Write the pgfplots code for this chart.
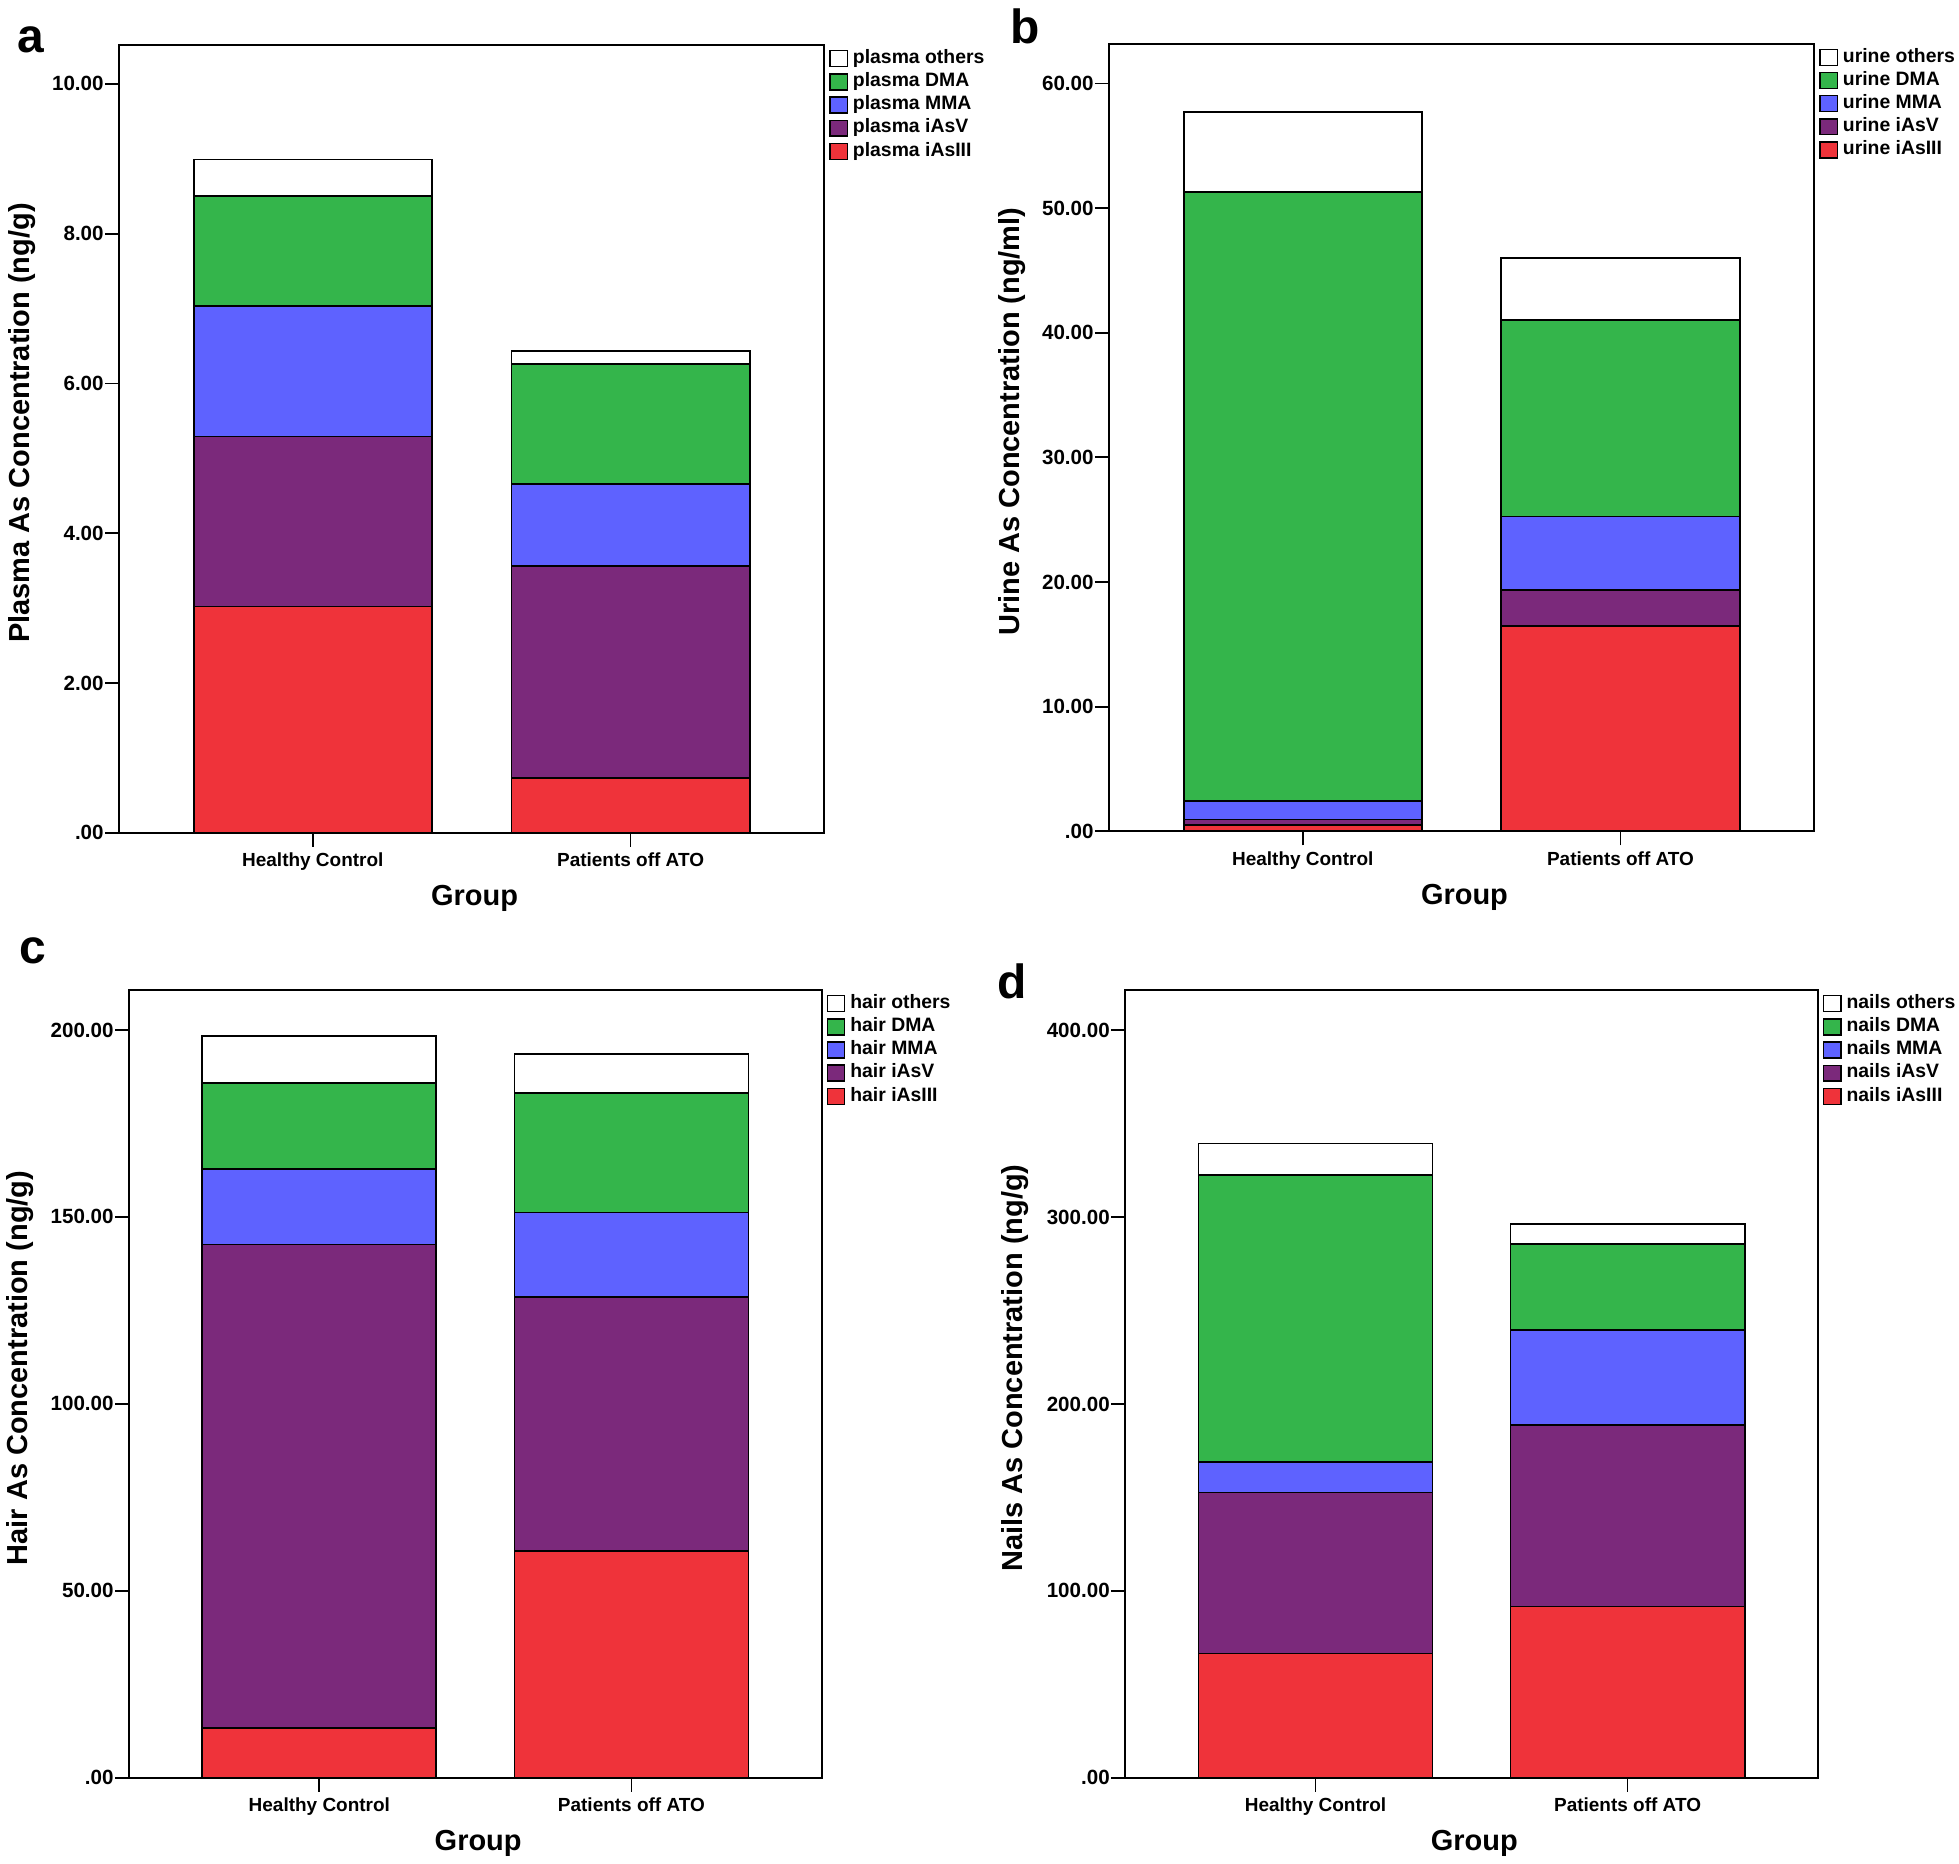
\documentclass[border=0pt]{standalone}
\usepackage{fontspec}
\setmainfont{Liberation Sans}
\usepackage{pgfplots}
\pgfplotsset{compat=1.18}
\definecolor{cIII}{RGB}{239,51,58}
\definecolor{cV}{RGB}{123,41,123}
\definecolor{cMMA}{RGB}{94,98,255}
\definecolor{cDMA}{RGB}{52,181,75}

\pgfplotsset{
  asplot/.style={
    scale only axis, ybar stacked, bar width=0.75,
    xmin=-0.61, xmax=1.61, ymin=0,
    xtick={0,1}, xticklabels={Healthy Control,Patients off ATO},
    tick pos=left, tick align=outside, major tick length=7pt,
    axis line style={line width=1pt},
    tick style={black, line width=0.9pt},
    xticklabel style={font=\fontsize{9.5}{11}\selectfont\bfseries, inner sep=0pt, anchor=north, yshift=-3pt},
    yticklabel style={font=\fontsize{10.3}{12}\selectfont\bfseries, inner sep=0pt, anchor=east, xshift=-0.5pt},
    xlabel={Group},
    xlabel style={font=\fontsize{14.5}{16}\selectfont\bfseries, at={(axis description cs:0.504,0)}, anchor=center, yshift=-33pt},
    ylabel style={font=\fontsize{14.5}{16}\selectfont\bfseries, anchor=center},
    every axis plot/.append style={draw=black, line width=0.9pt},
    reverse legend,
    legend cell align=left,
    legend style={at={(1,1)}, anchor=north west, xshift=2.2pt, yshift=-2.3pt,
      draw=none, fill=none, inner sep=0pt, row sep=2.9pt,
      font=\fontsize{9.7}{9.7}\selectfont\bfseries,
      nodes={inner sep=0pt, text height=6.4pt, text depth=1.6pt},
      /tikz/every odd column/.append style={column sep=2.5pt}},
    legend image code/.code={\draw[#1, draw=black, line width=0.7pt] (0.35pt,-4pt) rectangle (9.05pt,4pt);},
  }
}

\begin{document}
\begin{tikzpicture}
\path (0,0) rectangle (979.5pt,-932pt);

% a: plasma
\begin{axis}[asplot, at={(58.7pt,-416.7pt)}, anchor=south west, width=353pt, height=394.2pt,
  ymax=10.52, ytick={0,2,4,6,8,10}, yticklabels={.00,2.00,4.00,6.00,8.00,10.00},
  ylabel={Plasma As Concentration (ng/g)},
  ylabel style={at={(axis description cs:-0.138,0.52)}}]
\addplot[fill=cIII] coordinates {(0,3.02) (1,0.73)};
\addplot[fill=cV] coordinates {(0,2.27) (1,2.83)};
\addplot[fill=cMMA] coordinates {(0,1.74) (1,1.10)};
\addplot[fill=cDMA] coordinates {(0,1.47) (1,1.60)};
\addplot[fill=white] coordinates {(0,0.49) (1,0.17)};
\legend{plasma iAsIII,plasma iAsV,plasma MMA,plasma DMA,plasma others}
\end{axis}

% b: urine
\begin{axis}[asplot, at={(554.1pt,-416.0pt)}, anchor=south west, width=353pt, height=394.2pt,
  ymax=63.2, ytick={0,10,20,30,40,50,60}, yticklabels={.00,10.00,20.00,30.00,40.00,50.00,60.00},
  ylabel={Urine As Concentration (ng/ml)},
  ylabel style={at={(axis description cs:-0.138,0.52)}}]
\addplot[fill=cIII] coordinates {(0,0.52) (1,16.5)};
\addplot[fill=cV] coordinates {(0,0.43) (1,2.85)};
\addplot[fill=cMMA] coordinates {(0,1.48) (1,5.9)};
\addplot[fill=cDMA] coordinates {(0,48.83) (1,15.74)};
\addplot[fill=white] coordinates {(0,6.42) (1,4.99)};
\legend{urine iAsIII,urine iAsV,urine MMA,urine DMA,urine others}
\end{axis}

% c: hair
\begin{axis}[asplot, at={(63.7pt,-889.6pt)}, anchor=south west, width=346.7pt, height=394.2pt,
  ymax=210.7, ytick={0,50,100,150,200}, yticklabels={.00,50.00,100.00,150.00,200.00},
  ylabel={Hair As Concentration (ng/g)},
  ylabel style={at={(axis description cs:-0.157,0.52)}}]
\addplot[fill=cIII] coordinates {(0,13.35) (1,60.6)};
\addplot[fill=cV] coordinates {(0,129.25) (1,67.9)};
\addplot[fill=cMMA] coordinates {(0,20.2) (1,22.7)};
\addplot[fill=cDMA] coordinates {(0,23.1) (1,32.0)};
\addplot[fill=white] coordinates {(0,12.4) (1,10.4)};
\legend{hair iAsIII,hair iAsV,hair MMA,hair DMA,hair others}
\end{axis}

% d: nails
\begin{axis}[asplot, at={(562.2pt,-889.6pt)}, anchor=south west, width=346.7pt, height=394.2pt,
  ymax=421.5, ytick={0,100,200,300,400}, yticklabels={.00,100.00,200.00,300.00,400.00},
  ylabel={Nails As Concentration (ng/g)},
  ylabel style={at={(axis description cs:-0.159,0.52)}}]
\addplot[fill=cIII] coordinates {(0,66.5) (1,91.6)};
\addplot[fill=cV] coordinates {(0,86.1) (1,97.3)};
\addplot[fill=cMMA] coordinates {(0,16.2) (1,50.8)};
\addplot[fill=cDMA] coordinates {(0,153.6) (1,45.8)};
\addplot[fill=white] coordinates {(0,16.9) (1,10.8)};
\legend{nails iAsIII,nails iAsV,nails MMA,nails DMA,nails others}
\end{axis}

\begin{scope}[every node/.style={anchor=base west, inner sep=0pt, font=\fontsize{24}{24}\selectfont\bfseries}]
\node at (7.5pt,-26.2pt) {a};
\node at (504.8pt,-21.9pt) {b};
\node at (8.7pt,-482.3pt) {c};
\node at (497.9pt,-499.8pt) {d};
\end{scope}
\end{tikzpicture}
\end{document}
